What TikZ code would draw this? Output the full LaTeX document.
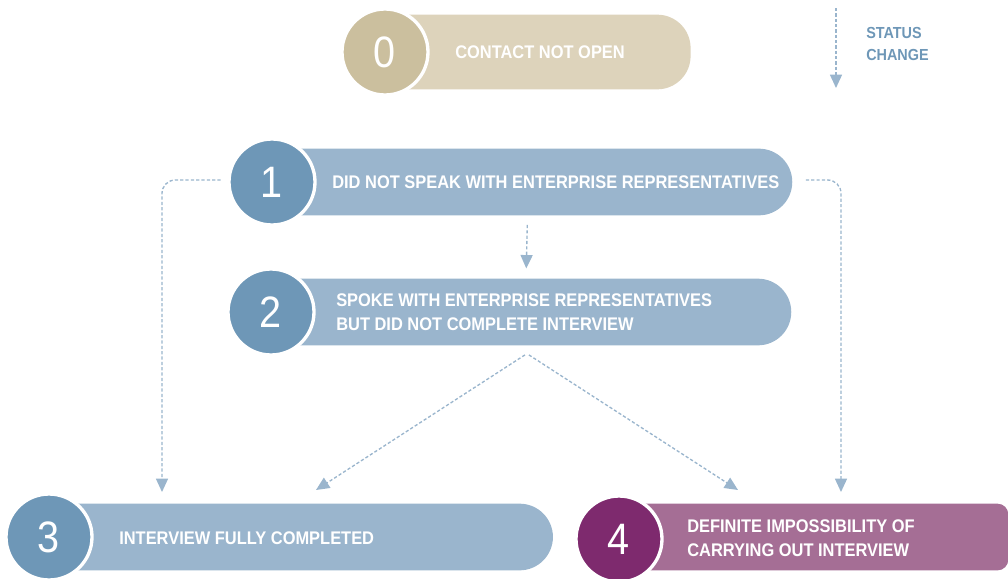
\documentclass[tikz,border=0pt]{standalone}
\usepackage{fontspec}
\setmainfont{Liberation Sans}[FakeStretch=0.9]
\usetikzlibrary{arrows.meta,positioning}

\definecolor{sanddark}{HTML}{CBBF9E}
\definecolor{sandlight}{HTML}{DDD3BB}
\definecolor{steeldark}{HTML}{6E97B7}
\definecolor{steellight}{HTML}{9AB5CD}
\definecolor{plumdark}{HTML}{7E2A6E}
\definecolor{plumlight}{HTML}{A56E95}

\tikzset{
  numdisk/.style={circle, draw=white, line width=2.5pt, minimum size=64.5pt,
    inner sep=0pt, text=white, font=\fontsize{33}{33}\selectfont},
  statebar/.style={rectangle, anchor=west, minimum height=50pt,
    rounded corners=25pt, inner sep=0pt},
  barlabel/.style={anchor=west, text=white, align=left, inner sep=0pt,
    font=\fontsize{13.7}{18}\selectfont\bfseries},
  flow/.style={draw=steellight, line width=1pt, dash pattern=on 2.4pt off 1.6pt,
    -{Triangle[width=9pt,length=10pt]}, rounded corners=10pt}
}

\begin{document}
\begin{tikzpicture}[x=0.75pt, y=-0.75pt]
  \useasboundingbox (0,0) rectangle (1008,579);

  % legend
  \coordinate (lgtop) at (836,8);
  \coordinate (lgbot) at (836,88);
  \draw[flow] (lgtop) -- (lgbot);
  \node[anchor=west, text=steeldark, align=left, inner sep=0pt,
    font=\fontsize{12}{16.5}\selectfont\bfseries] (legend) at (866,44) {STATUS\\CHANGE};

  % bars (behind the disks)
  \node[statebar, fill=sandlight, minimum height=56pt, minimum width=238pt] (b0) at (373,52) {};
  \node[statebar, fill=steellight, minimum width=397.5pt] (b1) at (262,182) {};
  \node[statebar, fill=steellight, minimum width=397.5pt] (b2) at (261,312) {};
  \node[statebar, fill=steellight, minimum width=386pt] (b3) at (38,537) {};
  \node[statebar, fill=plumlight, minimum width=300pt, rounded corners=8pt] (b4) at (608,537) {};

  % numbered disks
  \node[numdisk, fill=sanddark] (c0) at (385,52) {0};
  \node[numdisk, fill=steeldark] (c1) at (272,182) {1};
  \node[numdisk, fill=steeldark] (c2) at (271,312) {2};
  \node[numdisk, fill=steeldark] (c3) at (49,537) {3};
  \node[numdisk, fill=plumdark] (c4) at (619,539) {4};

  % texts
  \node[barlabel] (t0) at (455,52) {CONTACT NOT OPEN};
  \node[barlabel] (t1) at (332,182) {DID NOT SPEAK WITH ENTERPRISE REPRESENTATIVES};
  \node[barlabel] (t2) at (336,312) {SPOKE WITH ENTERPRISE REPRESENTATIVES\\BUT DID NOT COMPLETE INTERVIEW};
  \node[barlabel] (t3) at (119,538) {INTERVIEW FULLY COMPLETED};
  \node[barlabel] (t4) at (687,538) {DEFINITE IMPOSSIBILITY OF\\CARRYING OUT INTERVIEW};

  % status changes
  \coordinate (in3a) at (162,492);
  \coordinate (in3b) at (316,490);
  \coordinate (in4a) at (738,490);
  \coordinate (in4b) at (841,492);
  \draw[flow] ([yshift=-7pt]b1.south) -- ([yshift=7.5pt]b2.north);
  \draw[flow] ([xshift=-5pt,yshift=1.5pt]c1.west) -| (in3a);
  \draw[flow] ([xshift=10pt,yshift=1.5pt]b1.east) -| (in4b);
  \draw[flow] ([xshift=-1pt,yshift=-7pt]b2.south) -- (in3b);
  \draw[flow] ([xshift=2pt,yshift=-7pt]b2.south) -- (in4a);
\end{tikzpicture}
\end{document}
